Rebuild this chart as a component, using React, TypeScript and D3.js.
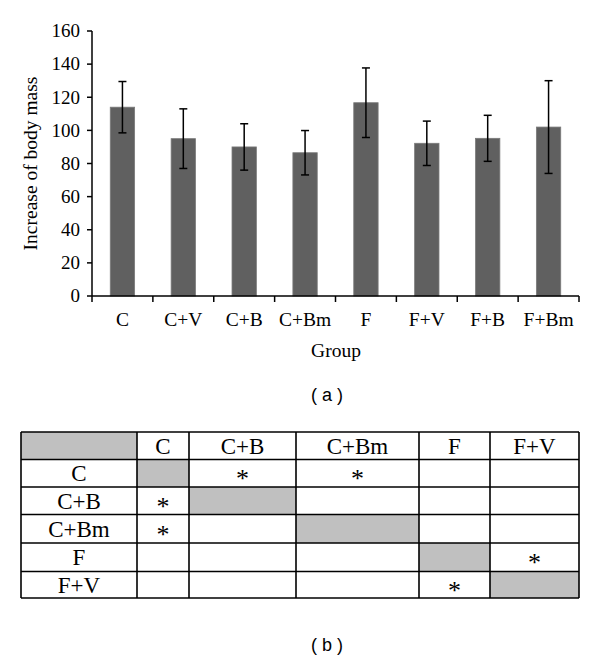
import React from 'react';
import * as d3 from 'd3';

// chart (a) data
const groups = ['C', 'C+V', 'C+B', 'C+Bm', 'F', 'F+V', 'F+B', 'F+Bm'];
const means = [114, 95, 90, 86.5, 116.7, 92.2, 95.2, 102];
const errors = [15.5, 18, 14, 13.4, 21, 13.4, 13.9, 28];
const yTicks = [0, 20, 40, 60, 80, 100, 120, 140, 160];

// table (b) data
const tableGroups = ['C', 'C+B', 'C+Bm', 'F', 'F+V'];
// [row, col] pairs with a significant difference
const starCells: [string, string][] = [
  ['C', 'C+B'],
  ['C', 'C+Bm'],
  ['C+B', 'C'],
  ['C+Bm', 'C'],
  ['F', 'F+V'],
  ['F+V', 'F'],
];

const W = 600;
const H = 662;
const serif = '"Liberation Serif", "DejaVu Serif", serif';
const sans = '"Liberation Sans", Arial, sans-serif';

export default function App() {
  const margin = { left: 92, right: 21 };
  const x = d3.scaleBand<string>()
    .domain(groups)
    .range([margin.left, W - margin.right])
    .paddingInner(0.6)
    .paddingOuter(0.3);
  const y = d3.scaleLinear().domain([0, 160]).range([296, 31]);
  const step = x.step();
  const x0 = margin.left;
  const x1 = W - margin.right;

  // table layout
  const colEdges = [21, 137, 189, 296, 419, 490, 579];
  const rowEdges = [432, 459.5, 487, 514.5, 543, 571.5, 598];
  const headers = ['', ...tableGroups];
  const cellFill = (r: number, c: number) =>
    (r === 0 && c === 0) || (r > 0 && r === c) ? '#c0c0c0' : '#fff';
  const isStar = (r: number, c: number) =>
    r > 0 && c > 0 &&
    starCells.some(([a, b]) => a === tableGroups[r - 1] && b === tableGroups[c - 1]);
  const midY = (r: number) => (rowEdges[r] + rowEdges[r + 1]) / 2;
  const midX = (c: number) => (colEdges[c] + colEdges[c + 1]) / 2;

  return (
    <svg width={W} height={H} style={{ position: 'absolute', left: 0, top: 0, background: '#fff' }}>
      {/* bars */}
      {groups.map((g, i) => (
        <rect key={g} x={x(g)} y={y(means[i])} width={x.bandwidth()} height={y(0) - y(means[i])}
          fill="#606060" stroke="#7a7a7a" strokeWidth={0.8} />
      ))}
      {/* error bars */}
      {groups.map((g, i) => {
        const cx = (x(g) as number) + x.bandwidth() / 2;
        const hi = y(means[i] + errors[i]);
        const lo = y(means[i] - errors[i]);
        return (
          <g key={'e' + g} stroke="#000" strokeWidth={1.5}>
            <line x1={cx} x2={cx} y1={hi} y2={lo} />
            <line x1={cx - 4} x2={cx + 4} y1={hi} y2={hi} />
            <line x1={cx - 4} x2={cx + 4} y1={lo} y2={lo} />
          </g>
        );
      })}
      {/* y axis */}
      <line x1={x0} x2={x0} y1={y(160)} y2={y(0)} stroke="#000" strokeWidth={1.5} />
      {yTicks.map(t => (
        <g key={t}>
          <line x1={x0 - 5} x2={x0} y1={y(t)} y2={y(t)} stroke="#000" strokeWidth={1.5} />
          <text x={x0 - 12} y={y(t)} dy="0.33em" textAnchor="end" fontFamily={serif} fontSize={19}>{t}</text>
        </g>
      ))}
      {/* x axis */}
      <line x1={x0} x2={x1} y1={y(0)} y2={y(0)} stroke="#000" strokeWidth={1.5} />
      {d3.range(groups.length + 1).map(i => (
        <line key={'t' + i} x1={x0 + i * step} x2={x0 + i * step} y1={y(0)} y2={y(0) + 6} stroke="#000" strokeWidth={1.5} />
      ))}
      {groups.map(g => (
        <text key={'l' + g} x={(x(g) as number) + x.bandwidth() / 2} y={326} textAnchor="middle"
          fontFamily={serif} fontSize={19.5}>{g}</text>
      ))}
      <text x={336} y={357} textAnchor="middle" fontFamily={serif} fontSize={19.5}>Group</text>
      <text transform={`translate(37,${(y(0) + y(160)) / 2}) rotate(-90)`} textAnchor="middle"
        fontFamily={serif} fontSize={19.5}>Increase of body mass</text>
      <text x={327} y={401} textAnchor="middle" fontFamily={sans} fontSize={18}>( a )</text>

      {/* table */}
      {headers.map((_, r) => headers.map((h, c) => (
        <rect key={`c${r}-${c}`} x={colEdges[c]} y={rowEdges[r]} width={colEdges[c + 1] - colEdges[c]}
          height={rowEdges[r + 1] - rowEdges[r]} fill={cellFill(r, c)} />
      )))}
      {headers.map((h, c) => c > 0 && (
        <text key={'h' + c} x={midX(c)} y={midY(0)} dy="0.34em"
          textAnchor="middle" fontFamily={serif} fontSize={23}>{h}</text>
      ))}
      {tableGroups.map((g, i) => (
        <text key={'r' + g} x={midX(0)} y={midY(i + 1)} dy="0.34em"
          textAnchor="middle" fontFamily={serif} fontSize={23}>{g}</text>
      ))}
      {headers.map((_, r) => headers.map((__, c) => isStar(r, c) && (
        <text key={`s${r}-${c}`} x={midX(c)} y={midY(r) + 14}
          textAnchor="middle" fontFamily={serif} fontSize={26}>*</text>
      )))}
      {colEdges.map((cx, i) => (
        <line key={'v' + i} x1={cx} x2={cx} y1={rowEdges[0]} y2={rowEdges[rowEdges.length - 1]} stroke="#000" strokeWidth={1.6} />
      ))}
      {rowEdges.map((ry, i) => (
        <line key={'hz' + i} x1={colEdges[0]} x2={colEdges[colEdges.length - 1]} y1={ry} y2={ry} stroke="#000" strokeWidth={1.6} />
      ))}
      <text x={327} y={651} textAnchor="middle" fontFamily={sans} fontSize={18}>( b )</text>
    </svg>
  );
}
